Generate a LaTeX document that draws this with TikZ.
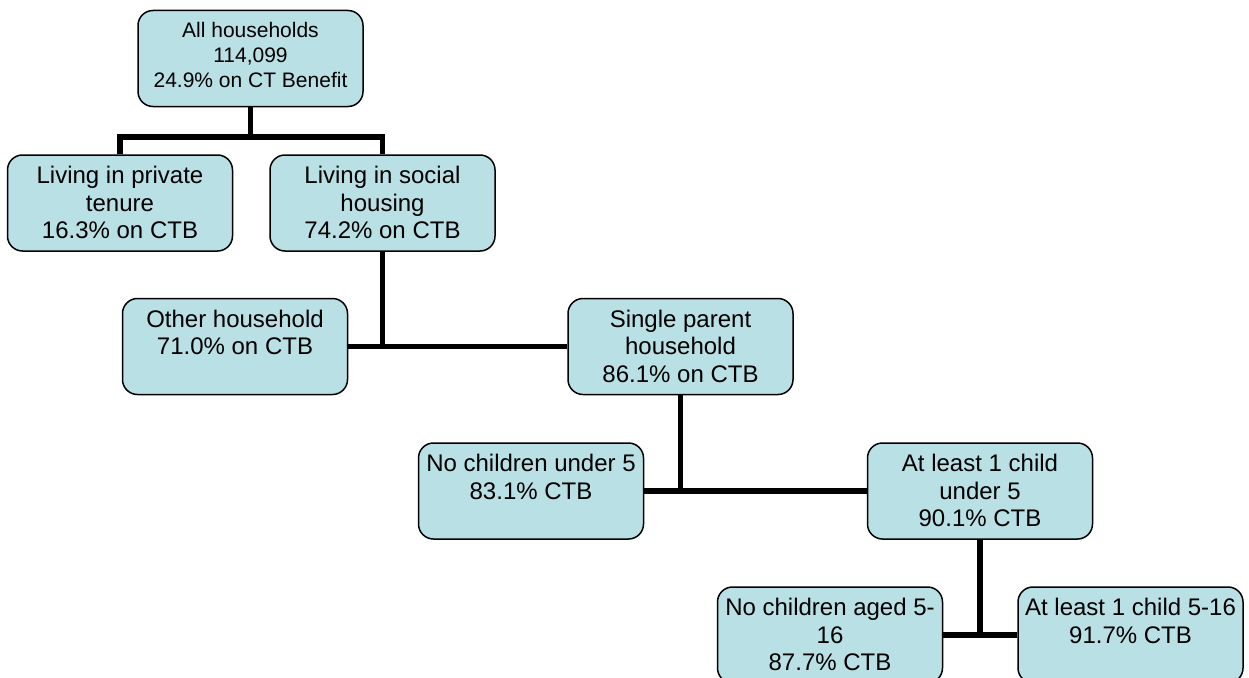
\documentclass[tikz,border=0pt]{standalone}
\usepackage{fontspec}
\setmainfont{Liberation Sans}
\definecolor{boxfill}{RGB}{185,224,228}
\begin{document}
\begin{tikzpicture}[x=1pt,y=-1pt,
  hbox/.style={draw=black, line width=1.5pt, fill=boxfill, rounded corners=15pt,
    minimum width=225pt, minimum height=96pt, inner sep=0pt},
  txt/.style={align=center, inner sep=0pt, anchor=north, font=\fontsize{24}{27.5}\selectfont},
  txttop/.style={txt, font=\fontsize{21}{25}\selectfont},
  conn/.style={line width=5.5pt}]
\useasboundingbox (0,0) rectangle (1249,677);
\clip (0,0) rectangle (1249,677);

% boxes
\node[hbox] (top)    at (250.5,58.5) {};
\node[hbox] (priv)   at (120,203) {};
\node[hbox] (soc)    at (382.5,203) {};
\node[hbox] (other)  at (235,346.5) {};
\node[hbox] (single) at (680.5,346.5) {};
\node[hbox] (nou5)   at (531,491) {};
\node[hbox] (u5)     at (980,491) {};
\node[hbox] (no516)  at (830,635) {};
\node[hbox] (c516)   at (1130.5,635) {};

% texts
\node[txttop] (ttop) at ([yshift=-10pt]top.north) {\strut All households\\114,099\\24.9\% on CT Benefit};
\node[txt] (tpriv) at ([yshift=-10pt]priv.north) {\strut Living in private\\tenure\\16.3\% on CTB};
\node[txt] (tsoc) at ([yshift=-10pt]soc.north) {\strut Living in social\\housing\\74.2\% on CTB};
\node[txt] (tother) at ([yshift=-10pt]other.north) {\strut Other household\\71.0\% on CTB};
\node[txt] (tsingle) at ([yshift=-10pt]single.north) {\strut Single parent\\household\\86.1\% on CTB};
\node[txt] (tnou5) at ([yshift=-10pt]nou5.north) {\strut No children under 5\\83.1\% CTB};
\node[txt] (tu5) at ([yshift=-10pt]u5.north) {\strut At least 1 child\\under 5\\90.1\% CTB};
\node[txt] (tno516) at ([yshift=-10pt]no516.north) {\strut No children aged 5-\\16\\87.7\% CTB};
\node[txt] (tc516) at ([yshift=-10pt]c516.north) {\strut At least 1 child 5-16\\91.7\% CTB};

% connectors
\coordinate (j1) at (250.5,137);
\draw[conn] (top.south) -- (j1);
\draw[conn] (priv.north) |- (j1) -| (soc.north);
\draw[conn] (other.east) -- (single.west);
\draw[conn] (soc.south) -- (soc.south |- other.east);
\draw[conn] (nou5.east) -- (u5.west);
\draw[conn] (single.south) -- (single.south |- nou5.east);
\draw[conn] (no516.east) -- (c516.west);
\draw[conn] (u5.south) -- (u5.south |- no516.east);
\end{tikzpicture}
\end{document}
